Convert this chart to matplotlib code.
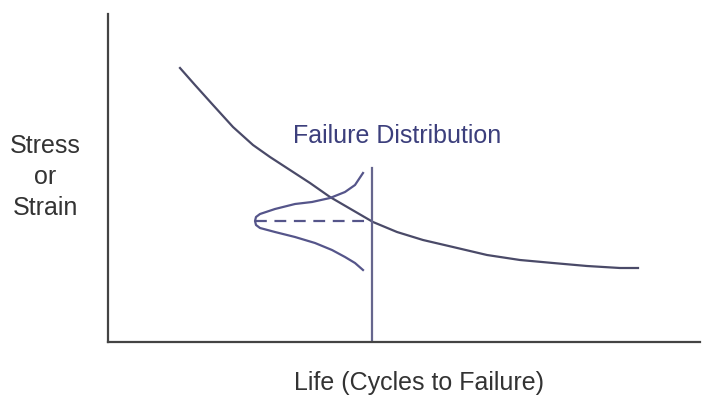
import matplotlib
matplotlib.use("Agg")
from matplotlib import pyplot as plt

# schematic S-N curve (x: life, y: stress)
sn_life = [72, 87, 105, 125, 145, 162, 182, 202, 222, 265, 289, 315, 345,
           379, 412, 445, 479, 512, 530]
sn_stress = [274, 257, 237, 215, 197, 185, 172, 159, 145, 120, 110, 102, 95,
             87, 82, 79, 76, 74, 74]

# failure distribution drawn sideways against the stress level
dist_life = [255, 247, 237, 222, 204, 187, 167, 152, 148, 147,
             148, 152, 167, 187, 207, 224, 237, 247, 255]
dist_stress = [169, 157, 150, 144, 140, 138, 133, 128, 125, 121,
               117, 114, 110, 105, 99, 92, 85, 79, 72]

mean_life = 264
mean_stress = 121
tip_life = 147
marker_top = 174

plt.rcParams['font.family'] = ['Liberation Sans', 'DejaVu Sans']
plt.rcParams['lines.scale_dashes'] = False

fig = plt.figure(figsize=(7.08, 4.0), dpi=100)
ax = fig.add_axes([108 / 708, 58 / 400, 592 / 708, 328 / 400])
ax.set_xlim(0, 592)
ax.set_ylim(0, 328)

curve_col = '#4a4a68'
blue_col = '#55558a'

ax.plot(sn_life, sn_stress, color=curve_col, lw=1.6, solid_joinstyle='round')
ax.plot(dist_life, dist_stress, color=blue_col, lw=1.6, solid_joinstyle='round')
ax.plot([mean_life, mean_life], [0, marker_top], color='#66668e', lw=1.6)
ax.plot([tip_life, mean_life], [mean_stress, mean_stress],
        color=blue_col, lw=1.6, linestyle=(0, (8.5, 5.5)))

ax.text(397 - 108, 342 - 136, 'Failure Distribution', color='#3c3f7c',
        fontsize=18, ha='center', va='center')

for side in ['top', 'right']:
    ax.spines[side].set_visible(False)
for side in ['left', 'bottom']:
    ax.spines[side].set_color('#444444')
    ax.spines[side].set_linewidth(1.6)
ax.set_xticks([])
ax.set_yticks([])

fig.text(419 / 708, 1 - 383 / 400, 'Life (Cycles to Failure)', color='#333333',
         fontsize=18, ha='center', va='center')
fig.text(45 / 708, 1 - 177 / 400, 'Stress\nor\nStrain', color='#333333',
         fontsize=18, ha='center', va='center', linespacing=1.38)

fig.savefig('out.png', dpi=100)
